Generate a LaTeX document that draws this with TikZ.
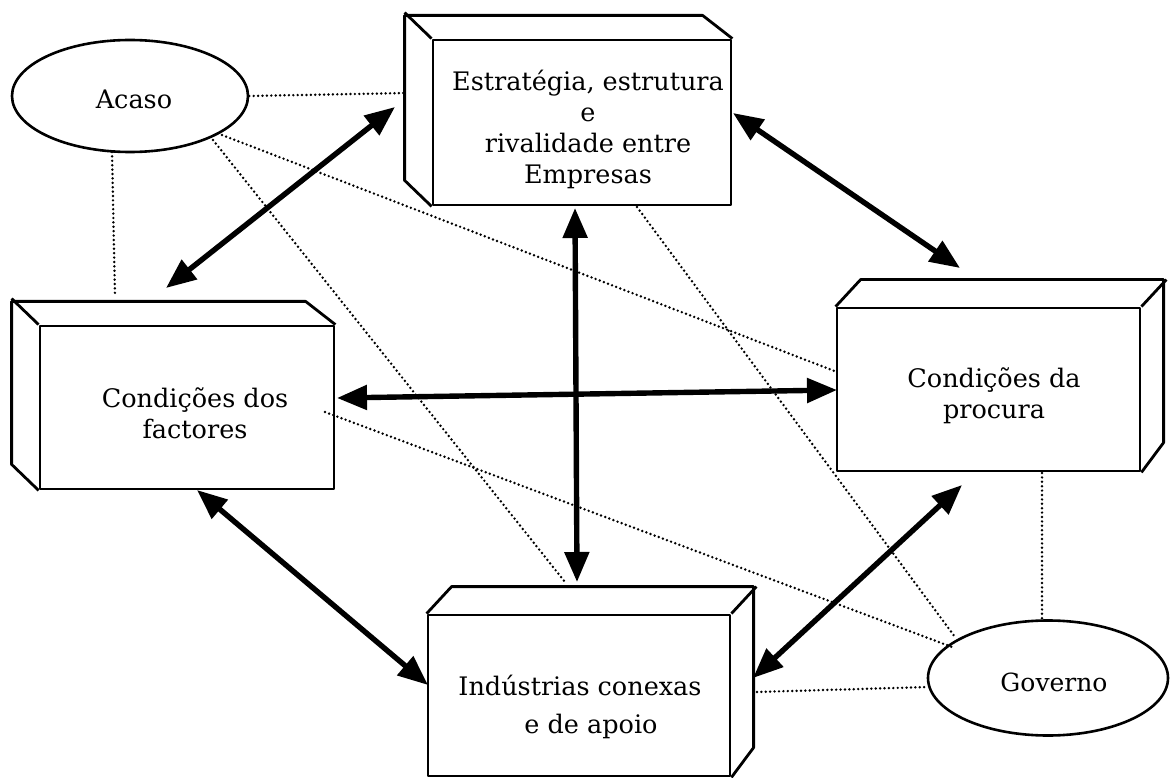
\documentclass[tikz,border=0pt]{standalone}
\usepackage{fontspec}
\setmainfont{DejaVu Serif}
\usetikzlibrary{shapes.geometric,arrows.meta}
\begin{document}
\begin{tikzpicture}[x=1pt,y=-1pt,
  boxline/.style={draw=black, line width=2.8pt, line join=round},
  frontface/.style={boxline, rectangle, inner sep=0pt, fill=white},
  lbl/.style={align=center, font=\fontsize{25.5}{31}\selectfont, inner sep=0pt},
  oval/.style={draw=black, line width=2.6pt, ellipse, inner sep=0pt, fill=white},
  biarrow/.style={line width=5.4pt, {Triangle[length=30pt,width=24pt]}-{Triangle[length=30pt,width=24pt]}},
  dots/.style={line width=2.7pt, dash pattern=on 0pt off 4.4pt, line cap=round}
]
\fill[white] (0,0) rectangle (1171,778);
\useasboundingbox (0,0) rectangle (1171,778);

% ---------- boxes (front faces) ----------
\node[frontface, minimum width=298pt, minimum height=165pt] (est) at (582,122.5) {};
\node[frontface, minimum width=294pt, minimum height=163pt] (fac) at (187,407.5) {};
\node[frontface, minimum width=303pt, minimum height=163pt] (proc) at (988.5,389.5) {};
\node[frontface, minimum width=302pt, minimum height=161pt] (ind) at (579,695.5) {};

% depth faces: left-hand depth
\draw[boxline] (est.south west) -- ++(-27,-26) -- ++(0,-165) -- ++(298,0) -- (est.north east);
\draw[boxline] (est.north west) -- ++(-27,-26);
\draw[boxline] (fac.south west) -- ++(-27,-26) -- ++(0,-163) -- ++(294,0) -- (fac.north east);
\draw[boxline] (fac.north west) -- ++(-27,-26);
% depth faces: right-hand depth
\draw[boxline] (proc.north west) -- ++(25,-27) -- ++(303,0) -- ++(0,163) -- (proc.south east);
\draw[boxline] (proc.north east) -- ++(25,-27);
\draw[boxline] (ind.north west) -- ++(25,-27) -- ++(302,0) -- ++(0,161) -- (ind.south east);
\draw[boxline] (ind.north east) -- ++(25,-27);

% ---------- ellipses ----------
\node[oval, minimum width=236pt, minimum height=112pt] (acaso) at (130,96) {};
\node[oval, minimum width=240pt, minimum height=115pt] (gov) at (1048,678) {};

% ---------- texts ----------
\node[lbl] (testxt) at (588,129) {Estratégia, estrutura\\e\\rivalidade entre\\Empresas};
\node[lbl] (tfac) at (195,413) {Condições dos\\factores};
\node[lbl] (tproc) at (994,396) {Condições da\\procura};
\node[lbl, font=\fontsize{25.5}{38}\selectfont] (tind) at (580,707) {Indústrias conexas\\\hspace*{22pt}e de apoio};
\node[lbl] (tacaso) at (134,99) {Acaso};
\node[lbl, font=\fontsize{25}{28}\selectfont] (tgov) at (1054,682) {Governo};

% ---------- connector end points ----------
\coordinate (a1s) at (395,107);  \coordinate (a1e) at (166,288);
\coordinate (a2s) at (733,113);  \coordinate (a2e) at (960,268);
\coordinate (a3s) at (575,208);  \coordinate (a3e) at (577,582);
\coordinate (a4s) at (337,398);  \coordinate (a4e) at (837,390);
\coordinate (a5s) at (197,490);  \coordinate (a5e) at (428,685);
\coordinate (a6s) at (962,485);  \coordinate (a6e) at (753,678);

\coordinate (d1e) at (407,93);
\coordinate (d2s) at (112,152);  \coordinate (d2e) at (115,297);
\coordinate (d3s) at (222,135);  \coordinate (d3e) at (837,372);
\coordinate (d4s) at (213,140);  \coordinate (d4e) at (565,582);
\coordinate (d5s) at (325,412);  \coordinate (d5e) at (952,647);
\coordinate (d6s) at (637,207);  \coordinate (d6e) at (955,637);
\coordinate (d7s) at (1042,473); \coordinate (d7e) at (1042,620);
\coordinate (d8s) at (757,692);  \coordinate (d8e) at (928,687);

% ---------- dotted influence lines ----------
\draw[dots] (acaso.east) -- (d1e);
\draw[dots] (d2s) -- (d2e);
\draw[dots] (d3s) -- (d3e);
\draw[dots] (d4s) -- (d4e);
\draw[dots] (d5s) -- (d5e);
\draw[dots] (d6s) -- (d6e);
\draw[dots] (d7s) -- (d7e);
\draw[dots] (d8s) -- (d8e);

% ---------- double arrows ----------
\draw[biarrow] (a1s) -- (a1e);
\draw[biarrow] (a2s) -- (a2e);
\draw[biarrow] (a3s) -- (a3e);
\draw[biarrow] (a4s) -- (a4e);
\draw[biarrow] (a5s) -- (a5e);
\draw[biarrow] (a6s) -- (a6e);
\end{tikzpicture}
\end{document}
